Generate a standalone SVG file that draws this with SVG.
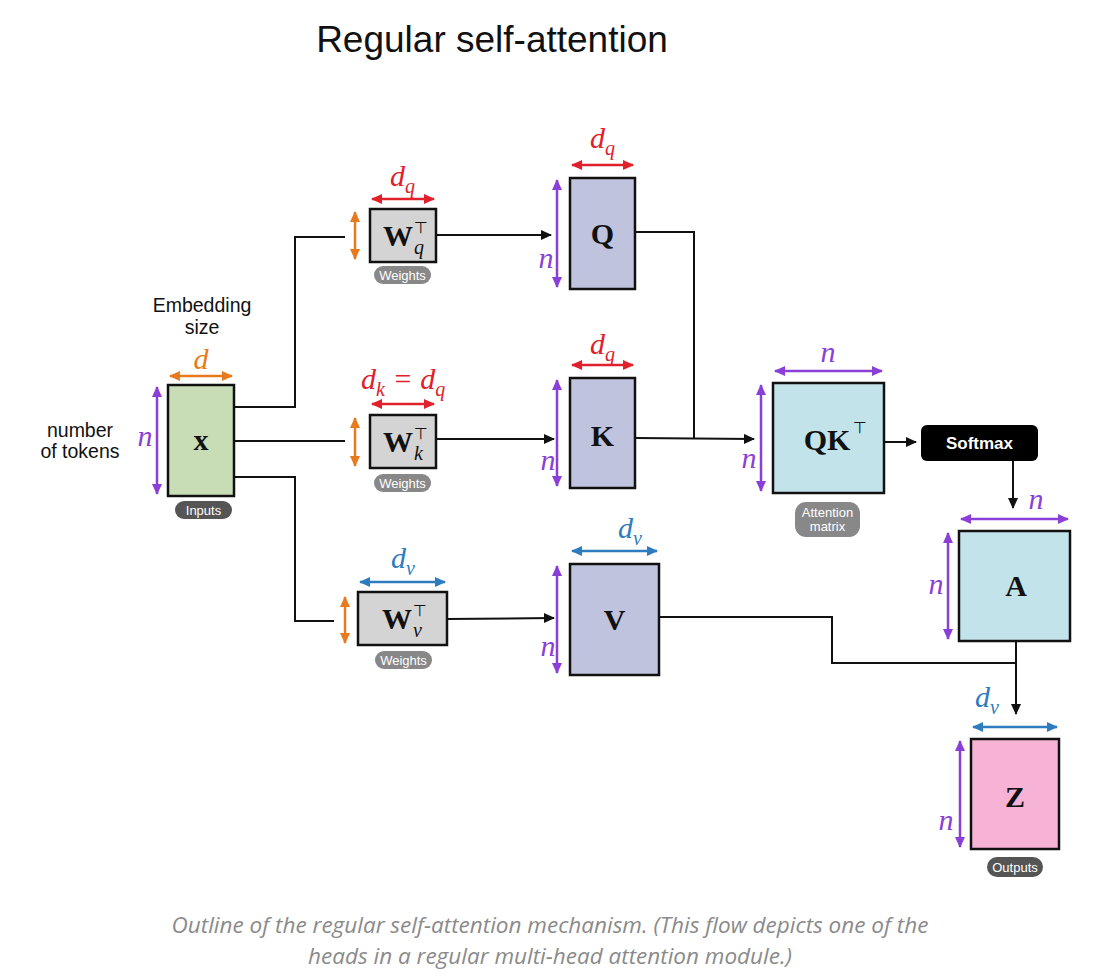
<svg xmlns="http://www.w3.org/2000/svg" width="1097" height="977" viewBox="0 0 1097 977">
<style>
.box{stroke:#111;stroke-width:2.5}
.conn{fill:none;stroke:#111;stroke-width:2}
.dim{fill:none;stroke-width:2.5}
.red{stroke:#e0202a}.purple{stroke:#8a3fd8}.blue{stroke:#2d7cc0}.orange{stroke:#e8791c}
.math{font-family:"Liberation Serif","DejaVu Serif",serif;font-style:italic}
.mred{fill:#e0202a}.mpurple{fill:#8a3fd8}.mblue{fill:#2d7cc0}
.big{font-family:"Liberation Serif","DejaVu Serif",serif;font-weight:bold;font-size:30px;fill:#111;text-anchor:middle}
.pill{font-family:"Liberation Sans",Arial,sans-serif;font-size:13px;fill:#fff;text-anchor:middle}
.lbl{font-family:"Liberation Sans",Arial,sans-serif;font-size:19.5px;fill:#111;text-anchor:middle}
.tee{font-family:"DejaVu Sans",sans-serif;font-size:16px;fill:#111}
</style>
<defs>
<marker id="ak" markerUnits="userSpaceOnUse" markerWidth="12" markerHeight="12" refX="10" refY="5" orient="auto"><path d="M0,0 L11,5 L0,10 Z" fill="#111"/></marker>
<marker id="ar" markerUnits="userSpaceOnUse" markerWidth="12" markerHeight="12" refX="10" refY="5" orient="auto-start-reverse"><path d="M0,0 L11,5 L0,10 Z" fill="#e0202a"/></marker>
<marker id="ap" markerUnits="userSpaceOnUse" markerWidth="12" markerHeight="12" refX="10" refY="5" orient="auto-start-reverse"><path d="M0,0 L11,5 L0,10 Z" fill="#8a3fd8"/></marker>
<marker id="ab" markerUnits="userSpaceOnUse" markerWidth="12" markerHeight="12" refX="10" refY="5" orient="auto-start-reverse"><path d="M0,0 L11,5 L0,10 Z" fill="#2d7cc0"/></marker>
<marker id="ao" markerUnits="userSpaceOnUse" markerWidth="12" markerHeight="12" refX="10" refY="5" orient="auto-start-reverse"><path d="M0,0 L11,5 L0,10 Z" fill="#e8791c"/></marker>
</defs>
<rect width="1097" height="977" fill="#fff"/>
<text x="492" y="52" font-family="Liberation Sans,Arial,sans-serif" font-size="37" text-anchor="middle" fill="#111">Regular self-attention</text>

<g id="connectors">
<polyline class="conn" points="234,407 295,407 295,237 345,237"/>
<line class="conn" x1="234" y1="441" x2="345" y2="441"/>
<polyline class="conn" points="234,477 295,477 295,621 334,621"/>
<line class="conn" x1="436" y1="235" x2="551" y2="235" marker-end="url(#ak)"/>
<line class="conn" x1="436" y1="439" x2="554" y2="439" marker-end="url(#ak)"/>
<line class="conn" x1="447" y1="619" x2="554" y2="618" marker-end="url(#ak)"/>
<polyline class="conn" points="635,232 694,232 694,438"/>
<line class="conn" x1="635" y1="438" x2="754" y2="439" marker-end="url(#ak)"/>
<line class="conn" x1="884" y1="442" x2="916" y2="442" marker-end="url(#ak)"/>
<line class="conn" x1="1013" y1="461" x2="1013" y2="508" marker-end="url(#ak)"/>
<polyline class="conn" points="659,617 832,617 832,663 1016,663"/>
<line class="conn" x1="1016" y1="641" x2="1016" y2="714" marker-end="url(#ak)"/>
</g>

<g id="node-x">
<text class="lbl" x="202" y="312">Embedding</text>
<text class="lbl" x="202" y="334">size</text>
<text class="lbl" x="80" y="437">number</text>
<text class="lbl" x="80" y="458">of tokens</text>
<line class="dim orange" x1="170" y1="376" x2="232" y2="376" marker-start="url(#ao)" marker-end="url(#ao)"/>
<text class="math" x="201" y="369" font-size="30" text-anchor="middle" fill="#e8791c">d</text>
<line class="dim purple" x1="157" y1="387" x2="157" y2="494" marker-start="url(#ap)" marker-end="url(#ap)"/>
<text class="math mpurple" x="145" y="446" font-size="30" text-anchor="middle">n</text>
<rect class="box" x="168" y="385" width="66" height="111" fill="#c8dcb6"/>
<text class="big" x="201" y="450">x</text>
<rect x="175" y="501" width="57" height="18" rx="9" fill="#555"/>
<text class="pill" x="203.5" y="515">Inputs</text>
</g>

<g id="node-wq">
<line class="dim red" x1="372" y1="199" x2="434" y2="199" marker-start="url(#ar)" marker-end="url(#ar)"/>
<text class="math mred" x="390" y="186" font-size="30">d<tspan font-size="20" dy="7">q</tspan></text>
<line class="dim orange" x1="355" y1="212" x2="355" y2="259" marker-start="url(#ao)" marker-end="url(#ao)"/>
<rect class="box" x="370" y="209" width="66" height="53" fill="#d4d4d4"/>
<text class="big" x="398" y="246">W</text>
<text class="tee" x="414" y="233">⊤</text>
<text class="math" x="414" y="254" font-size="20" fill="#111">q</text>
<rect x="374" y="266" width="57" height="18" rx="9" fill="#888"/>
<text class="pill" x="402.5" y="280">Weights</text>
</g>

<g id="node-wk">
<text class="math mred" x="361" y="389" font-size="30">d<tspan font-size="20" dy="7">k</tspan><tspan dy="-7"> = d</tspan><tspan font-size="20" dy="7">q</tspan></text>
<line class="dim red" x1="372" y1="404" x2="434" y2="404" marker-start="url(#ar)" marker-end="url(#ar)"/>
<line class="dim orange" x1="355" y1="418" x2="355" y2="466" marker-start="url(#ao)" marker-end="url(#ao)"/>
<rect class="box" x="370" y="415" width="66" height="53" fill="#d4d4d4"/>
<text class="big" x="398" y="452">W</text>
<text class="tee" x="414" y="439">⊤</text>
<text class="math" x="414" y="460" font-size="20" fill="#111">k</text>
<rect x="374" y="474" width="57" height="18" rx="9" fill="#888"/>
<text class="pill" x="402.5" y="488">Weights</text>
</g>

<g id="node-wv">
<text class="math mblue" x="391" y="568" font-size="30">d<tspan font-size="20" dy="7">v</tspan></text>
<line class="dim blue" x1="360" y1="582" x2="445" y2="582" marker-start="url(#ab)" marker-end="url(#ab)"/>
<line class="dim orange" x1="345" y1="597" x2="345" y2="643" marker-start="url(#ao)" marker-end="url(#ao)"/>
<rect class="box" x="358" y="592" width="89" height="53" fill="#d4d4d4"/>
<text class="big" x="397" y="629">W</text>
<text class="tee" x="413" y="616">⊤</text>
<text class="math" x="413" y="637" font-size="20" fill="#111">v</text>
<rect x="375" y="651" width="57" height="18" rx="9" fill="#888"/>
<text class="pill" x="403.5" y="665">Weights</text>
</g>

<g id="node-q">
<text class="math mred" x="590" y="148" font-size="30">d<tspan font-size="20" dy="7">q</tspan></text>
<line class="dim red" x1="572" y1="165" x2="633" y2="165" marker-start="url(#ar)" marker-end="url(#ar)"/>
<line class="dim purple" x1="557" y1="180" x2="557" y2="287" marker-start="url(#ap)" marker-end="url(#ap)"/>
<text class="math mpurple" x="546" y="268" font-size="30" text-anchor="middle">n</text>
<rect class="box" x="570" y="178" width="65" height="111" fill="#c0c3de"/>
<text class="big" x="602.5" y="244">Q</text>
</g>

<g id="node-k">
<text class="math mred" x="590" y="354" font-size="30">d<tspan font-size="20" dy="7">q</tspan></text>
<line class="dim red" x1="572" y1="365" x2="633" y2="365" marker-start="url(#ar)" marker-end="url(#ar)"/>
<line class="dim purple" x1="557" y1="380" x2="557" y2="486" marker-start="url(#ap)" marker-end="url(#ap)"/>
<text class="math mpurple" x="548" y="470" font-size="30" text-anchor="middle">n</text>
<rect class="box" x="570" y="378" width="65" height="110" fill="#c0c3de"/>
<text class="big" x="602.5" y="446">K</text>
</g>

<g id="node-v">
<text class="math mblue" x="618" y="538" font-size="30">d<tspan font-size="20" dy="7">v</tspan></text>
<line class="dim blue" x1="572" y1="551" x2="657" y2="551" marker-start="url(#ab)" marker-end="url(#ab)"/>
<line class="dim purple" x1="557" y1="566" x2="557" y2="673" marker-start="url(#ap)" marker-end="url(#ap)"/>
<text class="math mpurple" x="548" y="656" font-size="30" text-anchor="middle">n</text>
<rect class="box" x="570" y="564" width="89" height="111" fill="#c0c3de"/>
<text class="big" x="614.5" y="630">V</text>
</g>

<g id="node-qk">
<text class="math mpurple" x="828" y="362" font-size="30" text-anchor="middle">n</text>
<line class="dim purple" x1="775" y1="371" x2="882" y2="371" marker-start="url(#ap)" marker-end="url(#ap)"/>
<line class="dim purple" x1="761" y1="385" x2="761" y2="491" marker-start="url(#ap)" marker-end="url(#ap)"/>
<text class="math mpurple" x="749" y="468" font-size="30" text-anchor="middle">n</text>
<rect class="box" x="773" y="383" width="111" height="110" fill="#c3e3ea"/>
<text class="big" x="827" y="450">QK</text>
<text class="tee" x="853" y="433">⊤</text>
<rect x="795" y="502" width="65" height="35" rx="11" fill="#888"/>
<text class="pill" x="827.5" y="517">Attention</text>
<text class="pill" x="827.5" y="531">matrix</text>
</g>

<g id="node-softmax">
<rect x="921" y="425" width="117" height="36" rx="6" fill="#000"/>
<text x="979.5" y="449" font-family="Liberation Sans,Arial,sans-serif" font-size="17" font-weight="bold" fill="#fff" text-anchor="middle">Softmax</text>
</g>

<g id="node-a">
<text class="math mpurple" x="1036" y="509" font-size="30" text-anchor="middle">n</text>
<line class="dim purple" x1="961" y1="519" x2="1068" y2="519" marker-start="url(#ap)" marker-end="url(#ap)"/>
<line class="dim purple" x1="948" y1="533" x2="948" y2="639" marker-start="url(#ap)" marker-end="url(#ap)"/>
<text class="math mpurple" x="936" y="594" font-size="30" text-anchor="middle">n</text>
<rect class="box" x="959" y="531" width="111" height="110" fill="#c3e3ea"/>
<text class="big" x="1016" y="596">A</text>
</g>

<g id="node-z">
<text class="math mblue" x="975" y="707" font-size="30">d<tspan font-size="20" dy="7">v</tspan></text>
<line class="dim blue" x1="973" y1="727" x2="1057" y2="727" marker-start="url(#ab)" marker-end="url(#ab)"/>
<line class="dim purple" x1="960" y1="741" x2="960" y2="847" marker-start="url(#ap)" marker-end="url(#ap)"/>
<text class="math mpurple" x="946" y="830" font-size="30" text-anchor="middle">n</text>
<rect class="box" x="971" y="739" width="88" height="110" fill="#f7b3d6"/>
<text class="big" x="1015" y="807">Z</text>
<rect x="987" y="857" width="56" height="20" rx="10" fill="#555"/>
<text class="pill" x="1015" y="872">Outputs</text>
</g>

<g id="caption">
<text x="550" y="933" font-family="Open Sans,sans-serif" font-style="italic" font-size="22.5" fill="#8a8a8a" text-anchor="middle">Outline of the regular self-attention mechanism. (This flow depicts one of the</text>
<text x="550" y="964" font-family="Open Sans,sans-serif" font-style="italic" font-size="22.5" fill="#8a8a8a" text-anchor="middle">heads in a regular multi-head attention module.)</text>
</g>
</svg>
